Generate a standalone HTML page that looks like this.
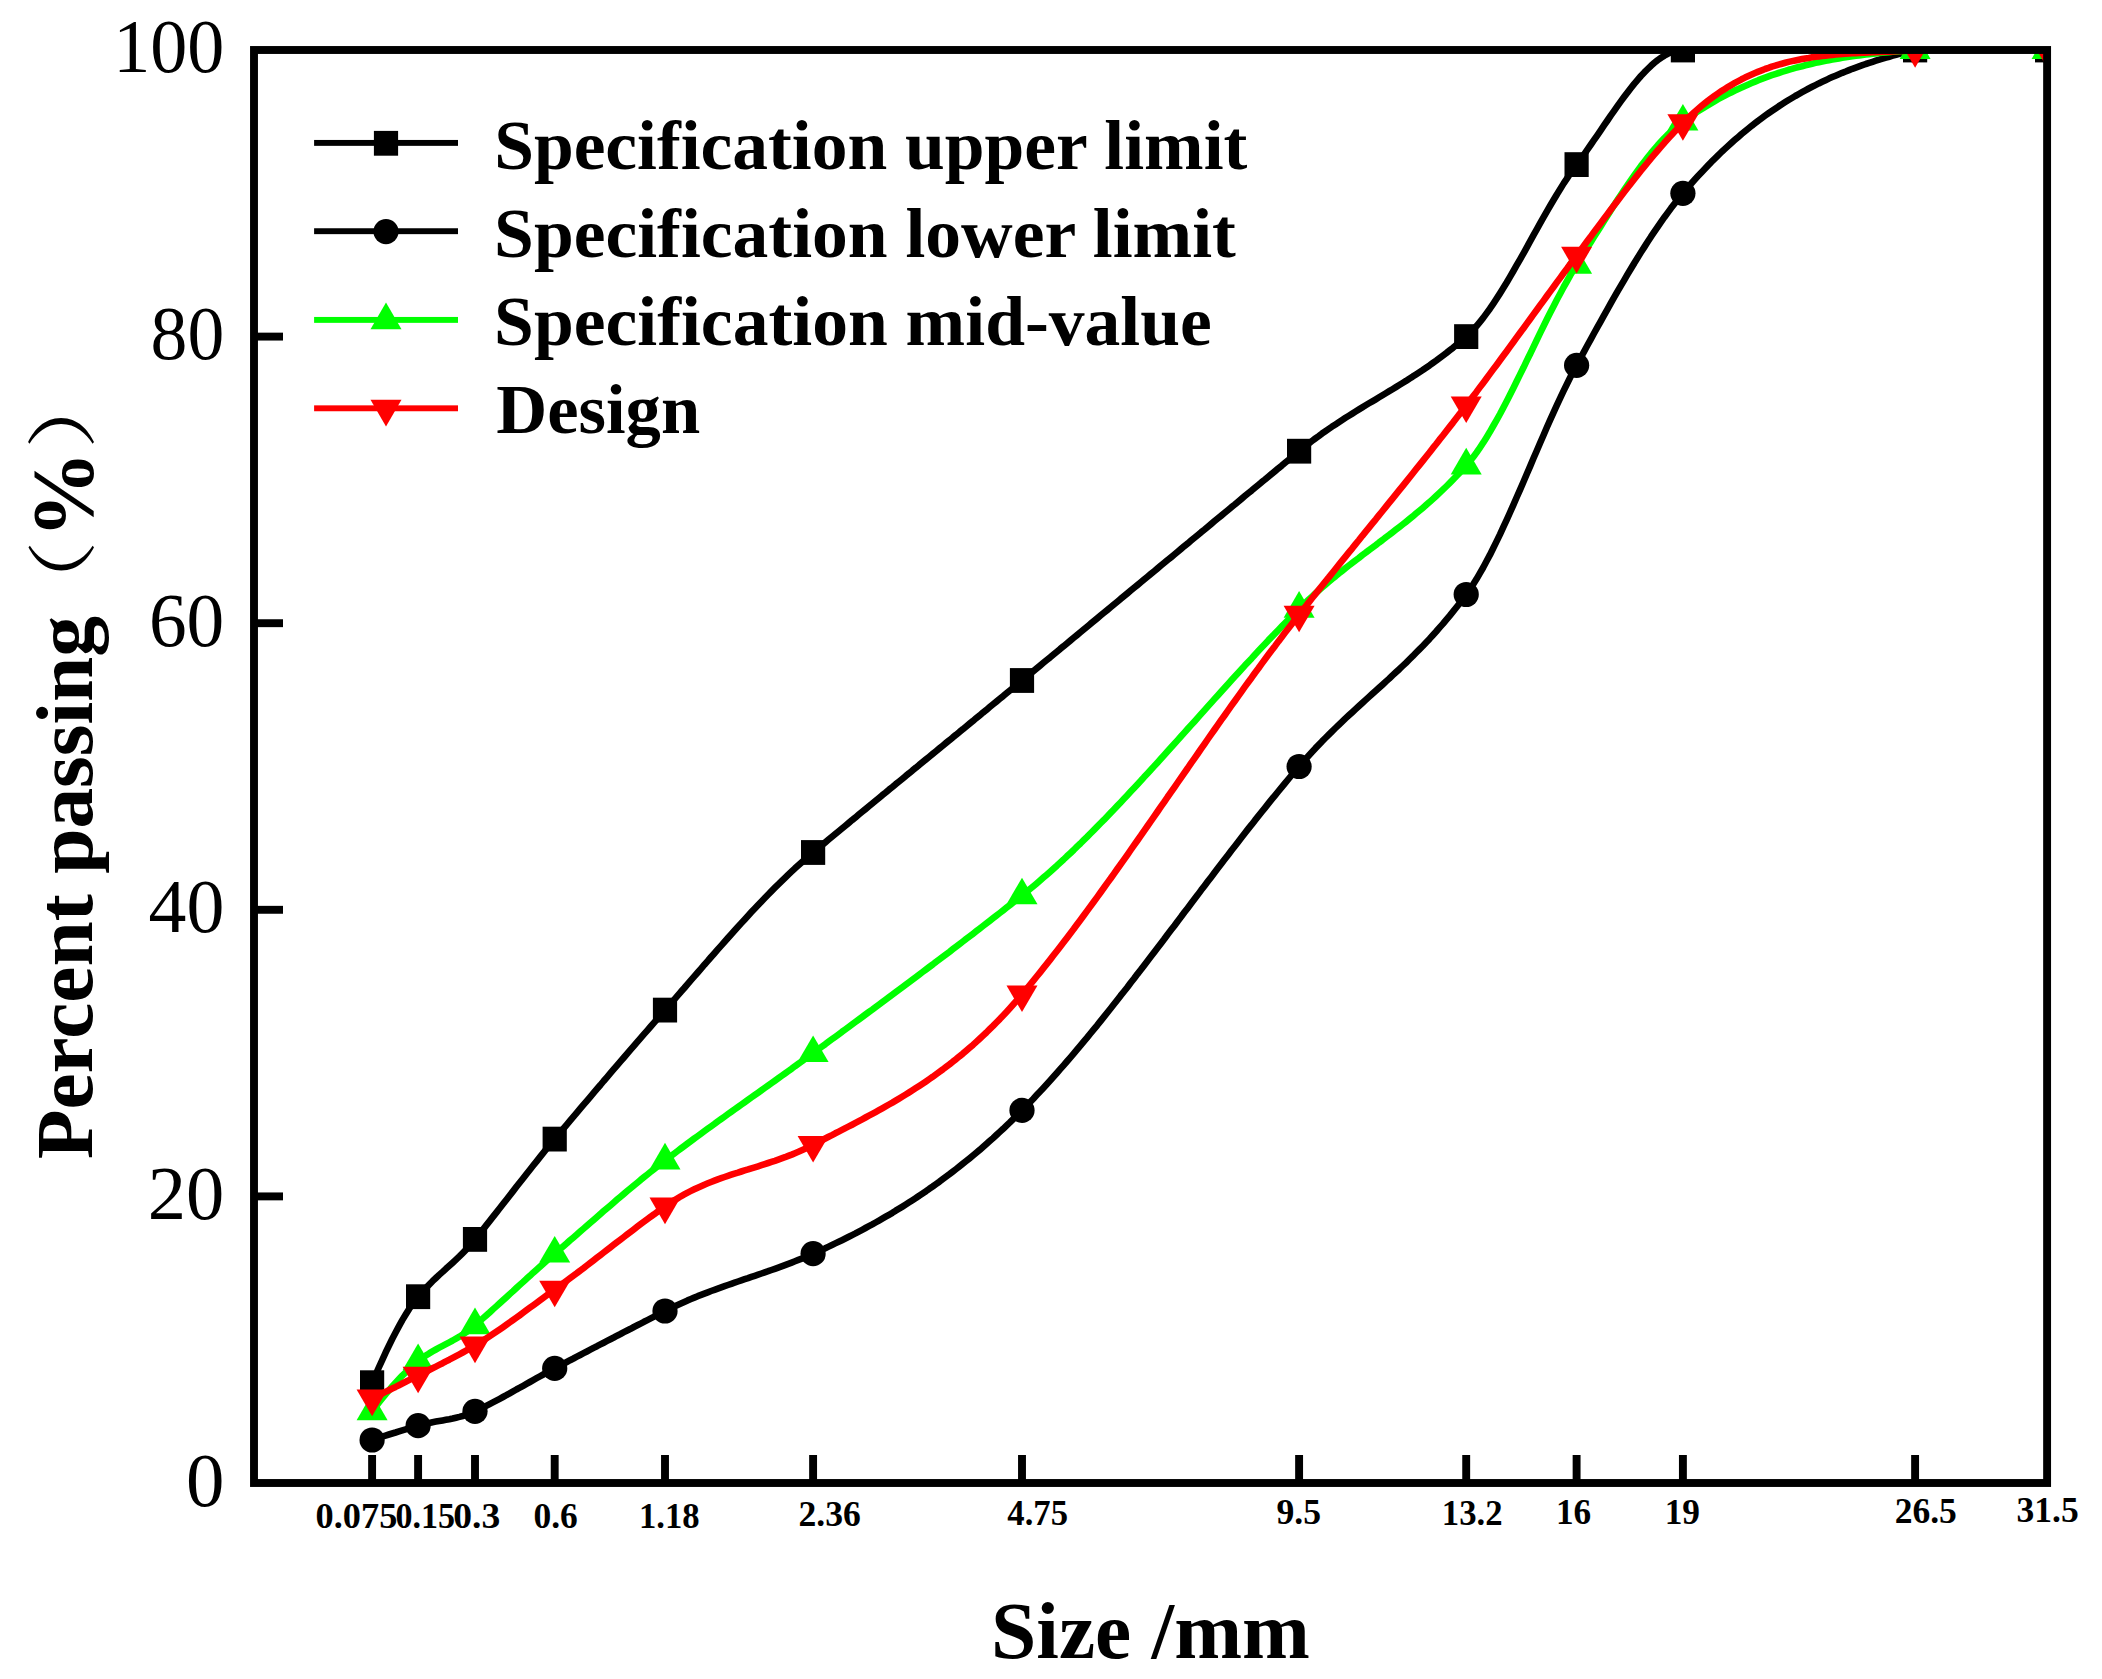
<!DOCTYPE html>
<html><head><meta charset="utf-8"><title>Gradation curve</title>
<style>
html,body{margin:0;padding:0;background:#fff}
svg{display:block}
text{font-family:"Liberation Serif","Noto Serif CJK SC",serif;fill:#000}
</style></head><body>
<svg width="2102" height="1679" viewBox="0 0 2102 1679">
<rect width="2102" height="1679" fill="#fff"/>
<defs><clipPath id="cp"><rect x="254.0" y="50.0" width="1793.1" height="1433.0"/></clipPath></defs>
<g clip-path="url(#cp)">
<path d="M372.1,1382.7 L375.5,1375.0 L378.8,1367.5 L382.2,1360.1 L385.5,1352.8 L388.9,1345.8 L392.2,1339.0 L395.6,1332.4 L399.0,1326.1 L402.3,1320.1 L405.7,1314.5 L409.0,1309.2 L412.4,1304.2 L415.7,1299.7 L418.1,1296.7 L419.1,1295.5 L422.5,1291.7 L425.8,1288.0 L429.2,1284.6 L432.5,1281.2 L435.9,1278.0 L439.2,1274.9 L442.6,1271.9 L445.9,1268.8 L449.3,1265.8 L452.7,1262.7 L456.0,1259.6 L459.4,1256.4 L462.7,1253.1 L466.1,1249.6 L469.4,1245.9 L472.8,1242.1 L475.0,1239.4 L476.2,1238.0 L479.5,1233.8 L482.9,1229.6 L486.2,1225.4 L489.6,1221.1 L492.9,1216.9 L496.3,1212.6 L499.7,1208.3 L503.0,1204.0 L506.4,1199.7 L509.7,1195.4 L513.1,1191.1 L516.4,1186.8 L519.8,1182.5 L523.2,1178.2 L526.5,1174.0 L529.9,1169.7 L533.2,1165.5 L536.6,1161.3 L539.9,1157.1 L543.3,1152.9 L546.6,1148.8 L550.0,1144.7 L553.4,1140.7 L554.7,1139.1 L556.7,1136.7 L560.1,1132.7 L563.4,1128.7 L566.8,1124.7 L570.1,1120.7 L573.5,1116.7 L576.9,1112.7 L580.2,1108.7 L583.6,1104.7 L586.9,1100.8 L590.3,1096.8 L593.6,1092.9 L597.0,1088.9 L600.4,1085.0 L603.7,1081.0 L607.1,1077.1 L610.4,1073.2 L613.8,1069.2 L617.1,1065.3 L620.5,1061.4 L623.9,1057.5 L627.2,1053.6 L630.6,1049.7 L633.9,1045.8 L637.3,1041.9 L640.6,1038.1 L644.0,1034.2 L647.4,1030.3 L650.7,1026.5 L654.1,1022.6 L657.4,1018.8 L660.8,1014.9 L664.1,1011.1 L665.0,1010.1 L667.5,1007.3 L670.8,1003.4 L674.2,999.6 L677.6,995.7 L680.9,991.8 L684.3,988.0 L687.6,984.1 L691.0,980.2 L694.3,976.4 L697.7,972.5 L701.1,968.6 L704.4,964.7 L707.8,960.9 L711.1,957.0 L714.5,953.2 L717.8,949.4 L721.2,945.6 L724.6,941.8 L727.9,938.0 L731.3,934.2 L734.6,930.5 L738.0,926.8 L741.3,923.1 L744.7,919.4 L748.1,915.7 L751.4,912.1 L754.8,908.5 L758.1,905.0 L761.5,901.4 L764.8,898.0 L768.2,894.5 L771.5,891.1 L774.9,887.7 L778.3,884.4 L781.6,881.1 L785.0,877.8 L788.3,874.6 L791.7,871.4 L795.0,868.3 L798.4,865.3 L801.8,862.2 L805.1,859.3 L808.5,856.4 L811.8,853.5 L813.1,852.5 L815.2,850.7 L818.5,848.0 L821.9,845.2 L825.3,842.4 L828.6,839.6 L832.0,836.8 L835.3,834.0 L838.7,831.2 L842.0,828.5 L845.4,825.7 L848.8,822.9 L852.1,820.1 L855.5,817.4 L858.8,814.6 L862.2,811.8 L865.5,809.1 L868.9,806.3 L872.3,803.5 L875.6,800.8 L879.0,798.0 L882.3,795.2 L885.7,792.5 L889.0,789.7 L892.4,787.0 L895.7,784.2 L899.1,781.5 L902.5,778.7 L905.8,775.9 L909.2,773.2 L912.5,770.4 L915.9,767.7 L919.2,764.9 L922.6,762.2 L926.0,759.4 L929.3,756.7 L932.7,753.9 L936.0,751.2 L939.4,748.4 L942.7,745.7 L946.1,742.9 L949.5,740.2 L952.8,737.4 L956.2,734.7 L959.5,731.9 L962.9,729.2 L966.2,726.4 L969.6,723.6 L973.0,720.9 L976.3,718.1 L979.7,715.4 L983.0,712.6 L986.4,709.9 L989.7,707.1 L993.1,704.3 L996.4,701.6 L999.8,698.8 L1003.2,696.1 L1006.5,693.3 L1009.9,690.5 L1013.2,687.8 L1016.6,685.0 L1019.9,682.2 L1022.0,680.5 L1023.3,679.4 L1026.7,676.7 L1030.0,673.9 L1033.4,671.1 L1036.7,668.4 L1040.1,665.6 L1043.4,662.8 L1046.8,660.0 L1050.2,657.3 L1053.5,654.5 L1056.9,651.7 L1060.2,648.9 L1063.6,646.2 L1066.9,643.4 L1070.3,640.6 L1073.7,637.8 L1077.0,635.1 L1080.4,632.3 L1083.7,629.5 L1087.1,626.7 L1090.4,623.9 L1093.8,621.2 L1097.2,618.4 L1100.5,615.6 L1103.9,612.8 L1107.2,610.1 L1110.6,607.3 L1113.9,604.5 L1117.3,601.7 L1120.6,598.9 L1124.0,596.2 L1127.4,593.4 L1130.7,590.6 L1134.1,587.8 L1137.4,585.1 L1140.8,582.3 L1144.1,579.5 L1147.5,576.7 L1150.9,573.9 L1154.2,571.2 L1157.6,568.4 L1160.9,565.6 L1164.3,562.8 L1167.6,560.0 L1171.0,557.3 L1174.4,554.5 L1177.7,551.7 L1181.1,548.9 L1184.4,546.1 L1187.8,543.4 L1191.1,540.6 L1194.5,537.8 L1197.9,535.0 L1201.2,532.2 L1204.6,529.5 L1207.9,526.7 L1211.3,523.9 L1214.6,521.1 L1218.0,518.3 L1221.3,515.6 L1224.7,512.8 L1228.1,510.0 L1231.4,507.2 L1234.8,504.5 L1238.1,501.7 L1241.5,498.9 L1244.8,496.1 L1248.2,493.3 L1251.6,490.6 L1254.9,487.8 L1258.3,485.0 L1261.6,482.2 L1265.0,479.5 L1268.3,476.7 L1271.7,473.9 L1275.1,471.1 L1278.4,468.3 L1281.8,465.6 L1285.1,462.8 L1288.5,460.0 L1291.8,457.2 L1295.2,454.5 L1298.6,451.7 L1299.1,451.2 L1301.9,448.9 L1305.3,446.2 L1308.6,443.6 L1312.0,441.0 L1315.3,438.5 L1318.7,436.1 L1322.0,433.6 L1325.4,431.3 L1328.8,428.9 L1332.1,426.6 L1335.5,424.4 L1338.8,422.2 L1342.2,420.0 L1345.5,417.8 L1348.9,415.7 L1352.3,413.6 L1355.6,411.5 L1359.0,409.4 L1362.3,407.4 L1365.7,405.3 L1369.0,403.3 L1372.4,401.3 L1375.8,399.3 L1379.1,397.3 L1382.5,395.2 L1385.8,393.2 L1389.2,391.2 L1392.5,389.2 L1395.9,387.1 L1399.3,385.0 L1402.6,383.0 L1406.0,380.9 L1409.3,378.7 L1412.7,376.6 L1416.0,374.4 L1419.4,372.2 L1422.8,370.0 L1426.1,367.7 L1429.5,365.4 L1432.8,363.0 L1436.2,360.6 L1439.5,358.1 L1442.9,355.6 L1446.2,353.1 L1449.6,350.4 L1453.0,347.8 L1456.3,345.0 L1459.7,342.2 L1463.0,339.4 L1466.2,336.6 L1466.4,336.4 L1469.7,333.3 L1473.1,329.8 L1476.5,326.1 L1479.8,322.1 L1483.2,317.9 L1486.5,313.4 L1489.9,308.7 L1493.2,303.8 L1496.6,298.7 L1500.0,293.4 L1503.3,288.0 L1506.7,282.5 L1510.0,276.8 L1513.4,271.0 L1516.7,265.2 L1520.1,259.3 L1523.5,253.3 L1526.8,247.3 L1530.2,241.2 L1533.5,235.2 L1536.9,229.2 L1540.2,223.2 L1543.6,217.2 L1546.9,211.3 L1550.3,205.5 L1553.7,199.8 L1557.0,194.2 L1560.4,188.8 L1563.7,183.4 L1567.1,178.3 L1570.4,173.3 L1573.8,168.5 L1576.6,164.6 L1577.2,163.9 L1580.5,159.3 L1583.9,154.6 L1587.2,149.9 L1590.6,145.0 L1593.9,140.2 L1597.3,135.3 L1600.7,130.3 L1604.0,125.4 L1607.4,120.5 L1610.7,115.6 L1614.1,110.8 L1617.4,106.1 L1620.8,101.4 L1624.2,96.8 L1627.5,92.4 L1630.9,88.0 L1634.2,83.9 L1637.6,79.9 L1640.9,76.0 L1644.3,72.4 L1647.7,69.0 L1651.0,65.8 L1654.4,62.8 L1657.7,60.1 L1661.1,57.7 L1664.4,55.6 L1667.8,53.8 L1671.1,52.3 L1674.5,51.2 L1677.9,50.4 L1681.2,50.0 L1682.9,50.0 L1684.6,50.0 L1687.9,50.0 L1691.3,50.0 L1694.6,50.0 L1698.0,50.0 L1701.4,50.0 L1704.7,50.0 L1708.1,50.0 L1711.4,50.0 L1714.8,50.0 L1718.1,50.0 L1721.5,50.0 L1724.9,50.0 L1728.2,50.0 L1731.6,50.0 L1734.9,50.0 L1738.3,50.0 L1741.6,50.0 L1745.0,50.0 L1748.4,50.0 L1751.7,50.0 L1755.1,50.0 L1758.4,50.0 L1761.8,50.0 L1765.1,50.0 L1768.5,50.0 L1771.8,50.0 L1775.2,50.0 L1778.6,50.0 L1781.9,50.0 L1785.3,50.0 L1788.6,50.0 L1792.0,50.0 L1795.3,50.0 L1798.7,50.0 L1802.1,50.0 L1805.4,50.0 L1808.8,50.0 L1812.1,50.0 L1815.5,50.0 L1818.8,50.0 L1822.2,50.0 L1825.6,50.0 L1828.9,50.0 L1832.3,50.0 L1835.6,50.0 L1839.0,50.0 L1842.3,50.0 L1845.7,50.0 L1849.1,50.0 L1852.4,50.0 L1855.8,50.0 L1859.1,50.0 L1862.5,50.0 L1865.8,50.0 L1869.2,50.0 L1872.6,50.0 L1875.9,50.0 L1879.3,50.0 L1882.6,50.0 L1886.0,50.0 L1889.3,50.0 L1892.7,50.0 L1896.0,50.0 L1899.4,50.0 L1902.8,50.0 L1906.1,50.0 L1909.5,50.0 L1912.8,50.0 L1915.1,50.0 L1916.2,50.0 L1919.5,50.0 L1922.9,50.0 L1926.3,50.0 L1929.6,50.0 L1933.0,50.0 L1936.3,50.0 L1939.7,50.0 L1943.0,50.0 L1946.4,50.0 L1949.8,50.0 L1953.1,50.0 L1956.5,50.0 L1959.8,50.0 L1963.2,50.0 L1966.5,50.0 L1969.9,50.0 L1973.3,50.0 L1976.6,50.0 L1980.0,50.0 L1983.3,50.0 L1986.7,50.0 L1990.0,50.0 L1993.4,50.0 L1996.7,50.0 L2000.1,50.0 L2003.5,50.0 L2006.8,50.0 L2010.2,50.0 L2013.5,50.0 L2016.9,50.0 L2020.2,50.0 L2023.6,50.0 L2027.0,50.0 L2030.3,50.0 L2033.7,50.0 L2037.0,50.0 L2040.4,50.0 L2043.7,50.0 L2047.1,50.0" fill="none" stroke="#000000" stroke-width="6.6" stroke-linejoin="round"/>
<rect x="360.0" y="1370.3" width="24.2" height="24.8" fill="#000000"/>
<rect x="406.0" y="1284.3" width="24.2" height="24.8" fill="#000000"/>
<rect x="462.9" y="1227.0" width="24.2" height="24.8" fill="#000000"/>
<rect x="542.6" y="1126.7" width="24.2" height="24.8" fill="#000000"/>
<rect x="652.9" y="997.7" width="24.2" height="24.8" fill="#000000"/>
<rect x="801.0" y="840.1" width="24.2" height="24.8" fill="#000000"/>
<rect x="1009.9" y="668.1" width="24.2" height="24.8" fill="#000000"/>
<rect x="1287.0" y="438.8" width="24.2" height="24.8" fill="#000000"/>
<rect x="1454.1" y="324.2" width="24.2" height="24.8" fill="#000000"/>
<rect x="1564.5" y="152.2" width="24.2" height="24.8" fill="#000000"/>
<rect x="1670.8" y="37.6" width="24.2" height="24.8" fill="#000000"/>
<rect x="1903.0" y="37.6" width="24.2" height="24.8" fill="#000000"/>
<rect x="2035.0" y="37.6" width="24.2" height="24.8" fill="#000000"/>
<path d="M372.1,1440.0 L375.5,1438.9 L378.8,1437.8 L382.2,1436.7 L385.5,1435.6 L388.9,1434.5 L392.2,1433.5 L395.6,1432.5 L399.0,1431.4 L402.3,1430.4 L405.7,1429.4 L409.0,1428.4 L412.4,1427.4 L415.7,1426.4 L418.1,1425.7 L419.1,1425.4 L422.5,1424.5 L425.8,1423.6 L429.2,1422.9 L432.5,1422.2 L435.9,1421.6 L439.2,1421.0 L442.6,1420.4 L445.9,1419.8 L449.3,1419.2 L452.7,1418.5 L456.0,1417.7 L459.4,1416.9 L462.7,1416.0 L466.1,1414.9 L469.4,1413.7 L472.8,1412.3 L475.0,1411.3 L476.2,1410.8 L479.5,1409.2 L482.9,1407.6 L486.2,1405.9 L489.6,1404.1 L492.9,1402.4 L496.3,1400.6 L499.7,1398.8 L503.0,1397.0 L506.4,1395.2 L509.7,1393.3 L513.1,1391.4 L516.4,1389.5 L519.8,1387.7 L523.2,1385.8 L526.5,1383.9 L529.9,1382.0 L533.2,1380.1 L536.6,1378.2 L539.9,1376.4 L543.3,1374.5 L546.6,1372.7 L550.0,1370.9 L553.4,1369.1 L554.7,1368.4 L556.7,1367.3 L560.1,1365.5 L563.4,1363.8 L566.8,1362.0 L570.1,1360.2 L573.5,1358.5 L576.9,1356.7 L580.2,1355.0 L583.6,1353.2 L586.9,1351.5 L590.3,1349.7 L593.6,1347.9 L597.0,1346.2 L600.4,1344.4 L603.7,1342.7 L607.1,1340.9 L610.4,1339.2 L613.8,1337.5 L617.1,1335.7 L620.5,1334.0 L623.9,1332.2 L627.2,1330.5 L630.6,1328.8 L633.9,1327.0 L637.3,1325.3 L640.6,1323.6 L644.0,1321.8 L647.4,1320.1 L650.7,1318.4 L654.1,1316.6 L657.4,1314.9 L660.8,1313.2 L664.1,1311.5 L665.0,1311.0 L667.5,1309.8 L670.8,1308.1 L674.2,1306.5 L677.6,1304.9 L680.9,1303.4 L684.3,1301.9 L687.6,1300.4 L691.0,1299.0 L694.3,1297.6 L697.7,1296.2 L701.1,1294.9 L704.4,1293.6 L707.8,1292.3 L711.1,1291.0 L714.5,1289.8 L717.8,1288.6 L721.2,1287.4 L724.6,1286.2 L727.9,1285.0 L731.3,1283.8 L734.6,1282.7 L738.0,1281.5 L741.3,1280.4 L744.7,1279.2 L748.1,1278.1 L751.4,1276.9 L754.8,1275.8 L758.1,1274.7 L761.5,1273.5 L764.8,1272.3 L768.2,1271.2 L771.5,1270.0 L774.9,1268.8 L778.3,1267.6 L781.6,1266.4 L785.0,1265.1 L788.3,1263.9 L791.7,1262.6 L795.0,1261.3 L798.4,1259.9 L801.8,1258.6 L805.1,1257.2 L808.5,1255.7 L811.8,1254.3 L813.1,1253.7 L815.2,1252.8 L818.5,1251.3 L821.9,1249.7 L825.3,1248.2 L828.6,1246.6 L832.0,1245.0 L835.3,1243.4 L838.7,1241.8 L842.0,1240.2 L845.4,1238.5 L848.8,1236.8 L852.1,1235.1 L855.5,1233.4 L858.8,1231.6 L862.2,1229.8 L865.5,1228.0 L868.9,1226.2 L872.3,1224.4 L875.6,1222.5 L879.0,1220.6 L882.3,1218.7 L885.7,1216.7 L889.0,1214.8 L892.4,1212.8 L895.7,1210.7 L899.1,1208.7 L902.5,1206.6 L905.8,1204.5 L909.2,1202.3 L912.5,1200.2 L915.9,1198.0 L919.2,1195.7 L922.6,1193.5 L926.0,1191.2 L929.3,1188.8 L932.7,1186.5 L936.0,1184.1 L939.4,1181.7 L942.7,1179.2 L946.1,1176.7 L949.5,1174.2 L952.8,1171.6 L956.2,1169.0 L959.5,1166.4 L962.9,1163.7 L966.2,1161.0 L969.6,1158.3 L973.0,1155.5 L976.3,1152.7 L979.7,1149.9 L983.0,1147.0 L986.4,1144.0 L989.7,1141.1 L993.1,1138.1 L996.4,1135.0 L999.8,1131.9 L1003.2,1128.8 L1006.5,1125.6 L1009.9,1122.4 L1013.2,1119.1 L1016.6,1115.8 L1019.9,1112.5 L1022.0,1110.4 L1023.3,1109.1 L1026.7,1105.7 L1030.0,1102.2 L1033.4,1098.7 L1036.7,1095.1 L1040.1,1091.5 L1043.4,1087.9 L1046.8,1084.2 L1050.2,1080.5 L1053.5,1076.8 L1056.9,1073.0 L1060.2,1069.2 L1063.6,1065.3 L1066.9,1061.5 L1070.3,1057.6 L1073.7,1053.6 L1077.0,1049.6 L1080.4,1045.6 L1083.7,1041.6 L1087.1,1037.6 L1090.4,1033.5 L1093.8,1029.4 L1097.2,1025.3 L1100.5,1021.1 L1103.9,1016.9 L1107.2,1012.7 L1110.6,1008.5 L1113.9,1004.3 L1117.3,1000.0 L1120.6,995.7 L1124.0,991.5 L1127.4,987.2 L1130.7,982.8 L1134.1,978.5 L1137.4,974.1 L1140.8,969.8 L1144.1,965.4 L1147.5,961.0 L1150.9,956.6 L1154.2,952.2 L1157.6,947.8 L1160.9,943.4 L1164.3,939.0 L1167.6,934.5 L1171.0,930.1 L1174.4,925.7 L1177.7,921.2 L1181.1,916.8 L1184.4,912.3 L1187.8,907.9 L1191.1,903.5 L1194.5,899.0 L1197.9,894.6 L1201.2,890.1 L1204.6,885.7 L1207.9,881.3 L1211.3,876.9 L1214.6,872.5 L1218.0,868.1 L1221.3,863.7 L1224.7,859.3 L1228.1,854.9 L1231.4,850.5 L1234.8,846.2 L1238.1,841.9 L1241.5,837.5 L1244.8,833.2 L1248.2,828.9 L1251.6,824.7 L1254.9,820.4 L1258.3,816.2 L1261.6,812.0 L1265.0,807.8 L1268.3,803.6 L1271.7,799.4 L1275.1,795.3 L1278.4,791.2 L1281.8,787.1 L1285.1,783.1 L1288.5,779.0 L1291.8,775.0 L1295.2,771.1 L1298.6,767.1 L1299.1,766.5 L1301.9,763.2 L1305.3,759.4 L1308.6,755.7 L1312.0,752.0 L1315.3,748.4 L1318.7,744.9 L1322.0,741.4 L1325.4,738.0 L1328.8,734.6 L1332.1,731.3 L1335.5,728.0 L1338.8,724.8 L1342.2,721.6 L1345.5,718.4 L1348.9,715.3 L1352.3,712.2 L1355.6,709.1 L1359.0,706.0 L1362.3,703.0 L1365.7,699.9 L1369.0,696.9 L1372.4,693.8 L1375.8,690.8 L1379.1,687.8 L1382.5,684.7 L1385.8,681.6 L1389.2,678.6 L1392.5,675.4 L1395.9,672.3 L1399.3,669.2 L1402.6,666.0 L1406.0,662.8 L1409.3,659.5 L1412.7,656.2 L1416.0,652.8 L1419.4,649.4 L1422.8,646.0 L1426.1,642.5 L1429.5,638.9 L1432.8,635.2 L1436.2,631.5 L1439.5,627.7 L1442.9,623.9 L1446.2,619.9 L1449.6,615.9 L1453.0,611.7 L1456.3,607.5 L1459.7,603.2 L1463.0,598.8 L1466.2,594.5 L1466.4,594.3 L1469.7,589.5 L1473.1,584.5 L1476.5,579.1 L1479.8,573.4 L1483.2,567.5 L1486.5,561.3 L1489.9,554.9 L1493.2,548.3 L1496.6,541.4 L1500.0,534.4 L1503.3,527.2 L1506.7,519.9 L1510.0,512.5 L1513.4,504.9 L1516.7,497.3 L1520.1,489.6 L1523.5,481.8 L1526.8,474.0 L1530.2,466.1 L1533.5,458.3 L1536.9,450.5 L1540.2,442.7 L1543.6,435.0 L1546.9,427.3 L1550.3,419.7 L1553.7,412.2 L1557.0,404.9 L1560.4,397.6 L1563.7,390.6 L1567.1,383.7 L1570.4,377.0 L1573.8,370.5 L1576.6,365.3 L1577.2,364.2 L1580.5,358.0 L1583.9,351.9 L1587.2,345.7 L1590.6,339.6 L1593.9,333.5 L1597.3,327.4 L1600.7,321.3 L1604.0,315.3 L1607.4,309.3 L1610.7,303.3 L1614.1,297.4 L1617.4,291.6 L1620.8,285.8 L1624.2,280.1 L1627.5,274.4 L1630.9,268.8 L1634.2,263.2 L1637.6,257.8 L1640.9,252.4 L1644.3,247.1 L1647.7,241.8 L1651.0,236.7 L1654.4,231.7 L1657.7,226.8 L1661.1,221.9 L1664.4,217.2 L1667.8,212.6 L1671.1,208.1 L1674.5,203.7 L1677.9,199.4 L1681.2,195.3 L1682.9,193.3 L1684.6,191.3 L1687.9,187.4 L1691.3,183.5 L1694.6,179.8 L1698.0,176.1 L1701.4,172.4 L1704.7,168.9 L1708.1,165.4 L1711.4,161.9 L1714.8,158.6 L1718.1,155.3 L1721.5,152.0 L1724.9,148.9 L1728.2,145.8 L1731.6,142.7 L1734.9,139.8 L1738.3,136.9 L1741.6,134.0 L1745.0,131.2 L1748.4,128.5 L1751.7,125.8 L1755.1,123.2 L1758.4,120.6 L1761.8,118.1 L1765.1,115.7 L1768.5,113.3 L1771.8,111.0 L1775.2,108.7 L1778.6,106.4 L1781.9,104.3 L1785.3,102.1 L1788.6,100.0 L1792.0,98.0 L1795.3,96.0 L1798.7,94.1 L1802.1,92.2 L1805.4,90.4 L1808.8,88.5 L1812.1,86.8 L1815.5,85.1 L1818.8,83.4 L1822.2,81.8 L1825.6,80.2 L1828.9,78.6 L1832.3,77.1 L1835.6,75.7 L1839.0,74.2 L1842.3,72.8 L1845.7,71.5 L1849.1,70.1 L1852.4,68.8 L1855.8,67.6 L1859.1,66.4 L1862.5,65.2 L1865.8,64.0 L1869.2,62.9 L1872.6,61.8 L1875.9,60.7 L1879.3,59.6 L1882.6,58.6 L1886.0,57.6 L1889.3,56.7 L1892.7,55.7 L1896.0,54.8 L1899.4,53.9 L1902.8,53.0 L1906.1,52.2 L1909.5,51.4 L1912.8,50.5 L1915.1,50.0 L1916.2,49.7 L1919.5,49.0 L1922.9,48.2 L1926.3,47.5 L1929.6,46.9 L1933.0,46.2 L1936.3,45.6 L1939.7,45.0 L1943.0,44.5 L1946.4,44.0 L1949.8,43.5 L1953.1,43.1 L1956.5,42.7 L1959.8,42.3 L1963.2,42.0 L1966.5,41.7 L1969.9,41.5 L1973.3,41.3 L1976.6,41.1 L1980.0,41.0 L1983.3,41.0 L1986.7,41.0 L1990.0,41.0 L1993.4,41.1 L1996.7,41.3 L2000.1,41.4 L2003.5,41.7 L2006.8,42.0 L2010.2,42.3 L2013.5,42.7 L2016.9,43.2 L2020.2,43.7 L2023.6,44.3 L2027.0,44.9 L2030.3,45.6 L2033.7,46.4 L2037.0,47.2 L2040.4,48.1 L2043.7,49.0 L2047.1,50.0" fill="none" stroke="#000000" stroke-width="6.6" stroke-linejoin="round"/>
<circle cx="372.1" cy="1440.0" r="12.6" fill="#000000"/>
<circle cx="418.1" cy="1425.7" r="12.6" fill="#000000"/>
<circle cx="475.0" cy="1411.3" r="12.6" fill="#000000"/>
<circle cx="554.7" cy="1368.4" r="12.6" fill="#000000"/>
<circle cx="665.0" cy="1311.0" r="12.6" fill="#000000"/>
<circle cx="813.1" cy="1253.7" r="12.6" fill="#000000"/>
<circle cx="1022.0" cy="1110.4" r="12.6" fill="#000000"/>
<circle cx="1299.1" cy="766.5" r="12.6" fill="#000000"/>
<circle cx="1466.2" cy="594.5" r="12.6" fill="#000000"/>
<circle cx="1576.6" cy="365.3" r="12.6" fill="#000000"/>
<circle cx="1682.9" cy="193.3" r="12.6" fill="#000000"/>
<circle cx="1915.1" cy="50.0" r="12.6" fill="#000000"/>
<circle cx="2047.1" cy="50.0" r="12.6" fill="#000000"/>
<path d="M372.1,1411.3 L375.5,1407.0 L378.8,1402.7 L382.2,1398.5 L385.5,1394.4 L388.9,1390.4 L392.2,1386.5 L395.6,1382.7 L399.0,1379.1 L402.3,1375.6 L405.7,1372.3 L409.0,1369.1 L412.4,1366.0 L415.7,1363.1 L418.1,1361.2 L419.1,1360.4 L422.5,1357.9 L425.8,1355.6 L429.2,1353.4 L432.5,1351.4 L435.9,1349.5 L439.2,1347.7 L442.6,1345.9 L445.9,1344.1 L449.3,1342.3 L452.7,1340.5 L456.0,1338.6 L459.4,1336.7 L462.7,1334.6 L466.1,1332.3 L469.4,1329.9 L472.8,1327.2 L475.0,1325.4 L476.2,1324.4 L479.5,1321.4 L482.9,1318.4 L486.2,1315.5 L489.6,1312.5 L492.9,1309.4 L496.3,1306.4 L499.7,1303.3 L503.0,1300.3 L506.4,1297.2 L509.7,1294.1 L513.1,1291.1 L516.4,1288.0 L519.8,1284.9 L523.2,1281.9 L526.5,1278.8 L529.9,1275.8 L533.2,1272.7 L536.6,1269.7 L539.9,1266.7 L543.3,1263.7 L546.6,1260.7 L550.0,1257.8 L553.4,1254.9 L554.7,1253.7 L556.7,1252.0 L560.1,1249.1 L563.4,1246.2 L566.8,1243.3 L570.1,1240.3 L573.5,1237.4 L576.9,1234.5 L580.2,1231.6 L583.6,1228.6 L586.9,1225.7 L590.3,1222.8 L593.6,1219.9 L597.0,1217.0 L600.4,1214.0 L603.7,1211.1 L607.1,1208.2 L610.4,1205.4 L613.8,1202.5 L617.1,1199.6 L620.5,1196.7 L623.9,1193.9 L627.2,1191.1 L630.6,1188.3 L633.9,1185.5 L637.3,1182.7 L640.6,1179.9 L644.0,1177.2 L647.4,1174.5 L650.7,1171.8 L654.1,1169.1 L657.4,1166.5 L660.8,1163.8 L664.1,1161.2 L665.0,1160.6 L667.5,1158.7 L670.8,1156.1 L674.2,1153.6 L677.6,1151.0 L680.9,1148.5 L684.3,1146.0 L687.6,1143.5 L691.0,1141.0 L694.3,1138.5 L697.7,1136.1 L701.1,1133.6 L704.4,1131.2 L707.8,1128.7 L711.1,1126.3 L714.5,1123.9 L717.8,1121.4 L721.2,1119.0 L724.6,1116.6 L727.9,1114.2 L731.3,1111.8 L734.6,1109.4 L738.0,1107.0 L741.3,1104.6 L744.7,1102.2 L748.1,1099.8 L751.4,1097.4 L754.8,1095.0 L758.1,1092.7 L761.5,1090.3 L764.8,1087.9 L768.2,1085.5 L771.5,1083.1 L774.9,1080.7 L778.3,1078.3 L781.6,1075.9 L785.0,1073.5 L788.3,1071.1 L791.7,1068.7 L795.0,1066.2 L798.4,1063.8 L801.8,1061.4 L805.1,1058.9 L808.5,1056.5 L811.8,1054.0 L813.1,1053.1 L815.2,1051.6 L818.5,1049.1 L821.9,1046.6 L825.3,1044.2 L828.6,1041.7 L832.0,1039.2 L835.3,1036.8 L838.7,1034.3 L842.0,1031.8 L845.4,1029.4 L848.8,1026.9 L852.1,1024.4 L855.5,1021.9 L858.8,1019.5 L862.2,1017.0 L865.5,1014.5 L868.9,1012.0 L872.3,1009.6 L875.6,1007.1 L879.0,1004.6 L882.3,1002.1 L885.7,999.6 L889.0,997.1 L892.4,994.6 L895.7,992.1 L899.1,989.6 L902.5,987.1 L905.8,984.6 L909.2,982.1 L912.5,979.6 L915.9,977.1 L919.2,974.6 L922.6,972.0 L926.0,969.5 L929.3,967.0 L932.7,964.5 L936.0,961.9 L939.4,959.4 L942.7,956.9 L946.1,954.3 L949.5,951.8 L952.8,949.2 L956.2,946.6 L959.5,944.1 L962.9,941.5 L966.2,938.9 L969.6,936.4 L973.0,933.8 L976.3,931.2 L979.7,928.6 L983.0,926.0 L986.4,923.4 L989.7,920.8 L993.1,918.2 L996.4,915.6 L999.8,913.0 L1003.2,910.3 L1006.5,907.7 L1009.9,905.1 L1013.2,902.4 L1016.6,899.8 L1019.9,897.1 L1022.0,895.5 L1023.3,894.4 L1026.7,891.7 L1030.0,889.0 L1033.4,886.2 L1036.7,883.4 L1040.1,880.5 L1043.4,877.6 L1046.8,874.7 L1050.2,871.7 L1053.5,868.7 L1056.9,865.7 L1060.2,862.6 L1063.6,859.5 L1066.9,856.3 L1070.3,853.2 L1073.7,850.0 L1077.0,846.7 L1080.4,843.5 L1083.7,840.2 L1087.1,836.9 L1090.4,833.5 L1093.8,830.1 L1097.2,826.7 L1100.5,823.3 L1103.9,819.9 L1107.2,816.4 L1110.6,812.9 L1113.9,809.4 L1117.3,805.9 L1120.6,802.4 L1124.0,798.8 L1127.4,795.2 L1130.7,791.6 L1134.1,788.0 L1137.4,784.4 L1140.8,780.8 L1144.1,777.1 L1147.5,773.5 L1150.9,769.8 L1154.2,766.1 L1157.6,762.4 L1160.9,758.7 L1164.3,755.0 L1167.6,751.3 L1171.0,747.5 L1174.4,743.8 L1177.7,740.1 L1181.1,736.3 L1184.4,732.6 L1187.8,728.8 L1191.1,725.1 L1194.5,721.4 L1197.9,717.6 L1201.2,713.9 L1204.6,710.1 L1207.9,706.4 L1211.3,702.6 L1214.6,698.9 L1218.0,695.2 L1221.3,691.5 L1224.7,687.7 L1228.1,684.0 L1231.4,680.3 L1234.8,676.6 L1238.1,673.0 L1241.5,669.3 L1244.8,665.6 L1248.2,662.0 L1251.6,658.4 L1254.9,654.7 L1258.3,651.1 L1261.6,647.6 L1265.0,644.0 L1268.3,640.4 L1271.7,636.9 L1275.1,633.4 L1278.4,629.9 L1281.8,626.4 L1285.1,623.0 L1288.5,619.6 L1291.8,616.1 L1295.2,612.8 L1298.6,609.4 L1299.1,608.9 L1301.9,606.1 L1305.3,602.9 L1308.6,599.7 L1312.0,596.6 L1315.3,593.5 L1318.7,590.5 L1322.0,587.6 L1325.4,584.7 L1328.8,581.8 L1332.1,579.0 L1335.5,576.3 L1338.8,573.5 L1342.2,570.8 L1345.5,568.2 L1348.9,565.5 L1352.3,562.9 L1355.6,560.3 L1359.0,557.8 L1362.3,555.2 L1365.7,552.7 L1369.0,550.1 L1372.4,547.6 L1375.8,545.1 L1379.1,542.5 L1382.5,540.0 L1385.8,537.4 L1389.2,534.9 L1392.5,532.3 L1395.9,529.7 L1399.3,527.1 L1402.6,524.5 L1406.0,521.8 L1409.3,519.1 L1412.7,516.4 L1416.0,513.6 L1419.4,510.8 L1422.8,507.9 L1426.1,505.0 L1429.5,502.1 L1432.8,499.1 L1436.2,496.0 L1439.5,492.9 L1442.9,489.7 L1446.2,486.5 L1449.6,483.1 L1453.0,479.7 L1456.3,476.3 L1459.7,472.7 L1463.0,469.1 L1466.2,465.6 L1466.4,465.4 L1469.7,461.4 L1473.1,457.2 L1476.5,452.6 L1479.8,447.8 L1483.2,442.7 L1486.5,437.4 L1489.9,431.8 L1493.2,426.0 L1496.6,420.1 L1500.0,414.0 L1503.3,407.7 L1506.7,401.2 L1510.0,394.7 L1513.4,388.0 L1516.7,381.3 L1520.1,374.4 L1523.5,367.6 L1526.8,360.6 L1530.2,353.7 L1533.5,346.8 L1536.9,339.8 L1540.2,332.9 L1543.6,326.1 L1546.9,319.3 L1550.3,312.6 L1553.7,306.0 L1557.0,299.5 L1560.4,293.2 L1563.7,287.0 L1567.1,281.0 L1570.4,275.1 L1573.8,269.5 L1576.6,265.0 L1577.2,264.1 L1580.5,258.7 L1583.9,253.3 L1587.2,247.9 L1590.6,242.5 L1593.9,237.1 L1597.3,231.7 L1600.7,226.4 L1604.0,221.0 L1607.4,215.7 L1610.7,210.4 L1614.1,205.2 L1617.4,200.1 L1620.8,195.0 L1624.2,189.9 L1627.5,185.0 L1630.9,180.1 L1634.2,175.4 L1637.6,170.7 L1640.9,166.1 L1644.3,161.7 L1647.7,157.4 L1651.0,153.2 L1654.4,149.2 L1657.7,145.3 L1661.1,141.6 L1664.4,138.0 L1667.8,134.6 L1671.1,131.4 L1674.5,128.4 L1677.9,125.5 L1681.2,122.9 L1682.9,121.7 L1684.6,120.4 L1687.9,118.1 L1691.3,115.8 L1694.6,113.5 L1698.0,111.3 L1701.4,109.2 L1704.7,107.1 L1708.1,105.1 L1711.4,103.1 L1714.8,101.1 L1718.1,99.2 L1721.5,97.4 L1724.9,95.6 L1728.2,93.9 L1731.6,92.2 L1734.9,90.5 L1738.3,88.9 L1741.6,87.4 L1745.0,85.9 L1748.4,84.4 L1751.7,83.0 L1755.1,81.6 L1758.4,80.2 L1761.8,78.9 L1765.1,77.7 L1768.5,76.4 L1771.8,75.2 L1775.2,74.1 L1778.6,73.0 L1781.9,71.9 L1785.3,70.9 L1788.6,69.8 L1792.0,68.9 L1795.3,67.9 L1798.7,67.0 L1802.1,66.2 L1805.4,65.3 L1808.8,64.5 L1812.1,63.7 L1815.5,62.9 L1818.8,62.2 L1822.2,61.5 L1825.6,60.8 L1828.9,60.2 L1832.3,59.6 L1835.6,59.0 L1839.0,58.4 L1842.3,57.8 L1845.7,57.3 L1849.1,56.8 L1852.4,56.3 L1855.8,55.8 L1859.1,55.4 L1862.5,54.9 L1865.8,54.5 L1869.2,54.1 L1872.6,53.7 L1875.9,53.4 L1879.3,53.0 L1882.6,52.7 L1886.0,52.4 L1889.3,52.1 L1892.7,51.8 L1896.0,51.5 L1899.4,51.2 L1902.8,50.9 L1906.1,50.7 L1909.5,50.4 L1912.8,50.2 L1915.1,50.0 L1916.2,49.9 L1919.5,49.7 L1922.9,49.4 L1926.3,49.2 L1929.6,49.0 L1933.0,48.7 L1936.3,48.5 L1939.7,48.3 L1943.0,48.1 L1946.4,47.8 L1949.8,47.6 L1953.1,47.4 L1956.5,47.2 L1959.8,47.1 L1963.2,46.9 L1966.5,46.8 L1969.9,46.6 L1973.3,46.5 L1976.6,46.4 L1980.0,46.3 L1983.3,46.2 L1986.7,46.2 L1990.0,46.2 L1993.4,46.2 L1996.7,46.2 L2000.1,46.2 L2003.5,46.3 L2006.8,46.4 L2010.2,46.5 L2013.5,46.7 L2016.9,46.9 L2020.2,47.1 L2023.6,47.3 L2027.0,47.6 L2030.3,47.9 L2033.7,48.2 L2037.0,48.6 L2040.4,49.0 L2043.7,49.5 L2047.1,50.0" fill="none" stroke="#00ff00" stroke-width="6.6" stroke-linejoin="round"/>
<polygon points="356.6,1420.2 387.6,1420.2 372.1,1393.6" fill="#00ff00"/>
<polygon points="402.6,1370.1 433.6,1370.1 418.1,1343.5" fill="#00ff00"/>
<polygon points="459.5,1334.2 490.5,1334.2 475.0,1307.6" fill="#00ff00"/>
<polygon points="539.2,1262.6 570.2,1262.6 554.7,1236.0" fill="#00ff00"/>
<polygon points="649.5,1169.4 680.5,1169.4 665.0,1142.8" fill="#00ff00"/>
<polygon points="797.6,1062.0 828.6,1062.0 813.1,1035.4" fill="#00ff00"/>
<polygon points="1006.5,904.3 1037.5,904.3 1022.0,877.7" fill="#00ff00"/>
<polygon points="1283.6,617.7 1314.6,617.7 1299.1,591.1" fill="#00ff00"/>
<polygon points="1450.7,474.4 1481.7,474.4 1466.2,447.8" fill="#00ff00"/>
<polygon points="1561.1,273.8 1592.1,273.8 1576.6,247.2" fill="#00ff00"/>
<polygon points="1667.4,130.5 1698.4,130.5 1682.9,103.9" fill="#00ff00"/>
<polygon points="1899.6,58.9 1930.6,58.9 1915.1,32.3" fill="#00ff00"/>
<polygon points="2031.6,58.9 2062.6,58.9 2047.1,32.3" fill="#00ff00"/>
<path d="M372.1,1398.5 L375.5,1396.8 L378.8,1395.2 L382.2,1393.5 L385.5,1391.9 L388.9,1390.2 L392.2,1388.5 L395.6,1386.9 L399.0,1385.2 L402.3,1383.5 L405.7,1381.8 L409.0,1380.1 L412.4,1378.4 L415.7,1376.7 L418.1,1375.5 L419.1,1375.0 L422.5,1373.3 L425.8,1371.7 L429.2,1370.0 L432.5,1368.3 L435.9,1366.6 L439.2,1364.9 L442.6,1363.2 L445.9,1361.4 L449.3,1359.7 L452.7,1357.9 L456.0,1356.1 L459.4,1354.3 L462.7,1352.5 L466.1,1350.6 L469.4,1348.7 L472.8,1346.7 L475.0,1345.4 L476.2,1344.7 L479.5,1342.7 L482.9,1340.6 L486.2,1338.5 L489.6,1336.3 L492.9,1334.1 L496.3,1331.8 L499.7,1329.5 L503.0,1327.2 L506.4,1324.8 L509.7,1322.4 L513.1,1320.0 L516.4,1317.6 L519.8,1315.2 L523.2,1312.7 L526.5,1310.2 L529.9,1307.7 L533.2,1305.3 L536.6,1302.8 L539.9,1300.3 L543.3,1297.8 L546.6,1295.4 L550.0,1292.9 L553.4,1290.5 L554.7,1289.5 L556.7,1288.1 L560.1,1285.7 L563.4,1283.2 L566.8,1280.7 L570.1,1278.2 L573.5,1275.7 L576.9,1273.2 L580.2,1270.6 L583.6,1268.1 L586.9,1265.5 L590.3,1262.9 L593.6,1260.3 L597.0,1257.7 L600.4,1255.1 L603.7,1252.5 L607.1,1249.9 L610.4,1247.3 L613.8,1244.7 L617.1,1242.1 L620.5,1239.6 L623.9,1237.0 L627.2,1234.4 L630.6,1231.8 L633.9,1229.3 L637.3,1226.7 L640.6,1224.2 L644.0,1221.7 L647.4,1219.2 L650.7,1216.7 L654.1,1214.3 L657.4,1211.8 L660.8,1209.4 L664.1,1207.0 L665.0,1206.4 L667.5,1204.7 L670.8,1202.5 L674.2,1200.3 L677.6,1198.3 L680.9,1196.3 L684.3,1194.4 L687.6,1192.6 L691.0,1190.9 L694.3,1189.3 L697.7,1187.7 L701.1,1186.2 L704.4,1184.7 L707.8,1183.3 L711.1,1182.0 L714.5,1180.7 L717.8,1179.4 L721.2,1178.2 L724.6,1177.0 L727.9,1175.9 L731.3,1174.7 L734.6,1173.6 L738.0,1172.6 L741.3,1171.5 L744.7,1170.4 L748.1,1169.4 L751.4,1168.3 L754.8,1167.3 L758.1,1166.3 L761.5,1165.2 L764.8,1164.1 L768.2,1163.0 L771.5,1161.9 L774.9,1160.8 L778.3,1159.6 L781.6,1158.4 L785.0,1157.2 L788.3,1155.9 L791.7,1154.6 L795.0,1153.2 L798.4,1151.8 L801.8,1150.3 L805.1,1148.8 L808.5,1147.1 L811.8,1145.5 L813.1,1144.8 L815.2,1143.7 L818.5,1142.0 L821.9,1140.3 L825.3,1138.5 L828.6,1136.8 L832.0,1135.1 L835.3,1133.3 L838.7,1131.6 L842.0,1129.9 L845.4,1128.1 L848.8,1126.4 L852.1,1124.7 L855.5,1122.9 L858.8,1121.1 L862.2,1119.3 L865.5,1117.5 L868.9,1115.7 L872.3,1113.9 L875.6,1112.1 L879.0,1110.2 L882.3,1108.3 L885.7,1106.4 L889.0,1104.5 L892.4,1102.6 L895.7,1100.6 L899.1,1098.6 L902.5,1096.5 L905.8,1094.5 L909.2,1092.4 L912.5,1090.3 L915.9,1088.1 L919.2,1085.9 L922.6,1083.7 L926.0,1081.4 L929.3,1079.1 L932.7,1076.8 L936.0,1074.4 L939.4,1071.9 L942.7,1069.5 L946.1,1066.9 L949.5,1064.4 L952.8,1061.7 L956.2,1059.1 L959.5,1056.3 L962.9,1053.6 L966.2,1050.7 L969.6,1047.8 L973.0,1044.9 L976.3,1041.9 L979.7,1038.8 L983.0,1035.7 L986.4,1032.5 L989.7,1029.2 L993.1,1025.9 L996.4,1022.5 L999.8,1019.1 L1003.2,1015.5 L1006.5,1011.9 L1009.9,1008.2 L1013.2,1004.5 L1016.6,1000.7 L1019.9,996.8 L1022.0,994.3 L1023.3,992.8 L1026.7,988.8 L1030.0,984.7 L1033.4,980.6 L1036.7,976.5 L1040.1,972.3 L1043.4,968.1 L1046.8,963.9 L1050.2,959.6 L1053.5,955.3 L1056.9,951.0 L1060.2,946.7 L1063.6,942.3 L1066.9,937.9 L1070.3,933.4 L1073.7,929.0 L1077.0,924.5 L1080.4,920.0 L1083.7,915.5 L1087.1,910.9 L1090.4,906.3 L1093.8,901.7 L1097.2,897.1 L1100.5,892.5 L1103.9,887.8 L1107.2,883.1 L1110.6,878.5 L1113.9,873.8 L1117.3,869.0 L1120.6,864.3 L1124.0,859.6 L1127.4,854.8 L1130.7,850.0 L1134.1,845.2 L1137.4,840.5 L1140.8,835.7 L1144.1,830.8 L1147.5,826.0 L1150.9,821.2 L1154.2,816.4 L1157.6,811.5 L1160.9,806.7 L1164.3,801.9 L1167.6,797.0 L1171.0,792.2 L1174.4,787.3 L1177.7,782.5 L1181.1,777.6 L1184.4,772.8 L1187.8,768.0 L1191.1,763.1 L1194.5,758.3 L1197.9,753.5 L1201.2,748.7 L1204.6,743.8 L1207.9,739.0 L1211.3,734.2 L1214.6,729.5 L1218.0,724.7 L1221.3,719.9 L1224.7,715.2 L1228.1,710.4 L1231.4,705.7 L1234.8,701.0 L1238.1,696.3 L1241.5,691.6 L1244.8,686.9 L1248.2,682.3 L1251.6,677.7 L1254.9,673.0 L1258.3,668.5 L1261.6,663.9 L1265.0,659.3 L1268.3,654.8 L1271.7,650.3 L1275.1,645.9 L1278.4,641.4 L1281.8,637.0 L1285.1,632.6 L1288.5,628.2 L1291.8,623.9 L1295.2,619.6 L1298.6,615.3 L1299.1,614.6 L1301.9,611.0 L1305.3,606.8 L1308.6,602.6 L1312.0,598.3 L1315.3,594.1 L1318.7,589.9 L1322.0,585.7 L1325.4,581.5 L1328.8,577.4 L1332.1,573.2 L1335.5,569.0 L1338.8,564.9 L1342.2,560.7 L1345.5,556.6 L1348.9,552.4 L1352.3,548.3 L1355.6,544.1 L1359.0,540.0 L1362.3,535.8 L1365.7,531.7 L1369.0,527.6 L1372.4,523.4 L1375.8,519.3 L1379.1,515.1 L1382.5,511.0 L1385.8,506.9 L1389.2,502.7 L1392.5,498.6 L1395.9,494.4 L1399.3,490.2 L1402.6,486.1 L1406.0,481.9 L1409.3,477.7 L1412.7,473.5 L1416.0,469.3 L1419.4,465.1 L1422.8,460.9 L1426.1,456.7 L1429.5,452.5 L1432.8,448.2 L1436.2,444.0 L1439.5,439.7 L1442.9,435.5 L1446.2,431.2 L1449.6,426.9 L1453.0,422.6 L1456.3,418.2 L1459.7,413.9 L1463.0,409.5 L1466.2,405.4 L1466.4,405.1 L1469.7,400.7 L1473.1,396.3 L1476.5,391.9 L1479.8,387.4 L1483.2,382.9 L1486.5,378.5 L1489.9,373.9 L1493.2,369.4 L1496.6,364.9 L1500.0,360.3 L1503.3,355.8 L1506.7,351.2 L1510.0,346.6 L1513.4,342.0 L1516.7,337.4 L1520.1,332.8 L1523.5,328.2 L1526.8,323.6 L1530.2,319.0 L1533.5,314.4 L1536.9,309.8 L1540.2,305.2 L1543.6,300.6 L1546.9,296.0 L1550.3,291.4 L1553.7,286.8 L1557.0,282.2 L1560.4,277.6 L1563.7,273.0 L1567.1,268.5 L1570.4,263.9 L1573.8,259.4 L1576.6,255.6 L1577.2,254.9 L1580.5,250.4 L1583.9,245.8 L1587.2,241.3 L1590.6,236.8 L1593.9,232.2 L1597.3,227.7 L1600.7,223.2 L1604.0,218.7 L1607.4,214.2 L1610.7,209.7 L1614.1,205.3 L1617.4,200.9 L1620.8,196.5 L1624.2,192.1 L1627.5,187.7 L1630.9,183.4 L1634.2,179.2 L1637.6,174.9 L1640.9,170.7 L1644.3,166.6 L1647.7,162.5 L1651.0,158.4 L1654.4,154.4 L1657.7,150.5 L1661.1,146.6 L1664.4,142.8 L1667.8,139.1 L1671.1,135.4 L1674.5,131.8 L1677.9,128.2 L1681.2,124.8 L1682.9,123.1 L1684.6,121.4 L1687.9,118.1 L1691.3,115.0 L1694.6,111.9 L1698.0,109.0 L1701.4,106.1 L1704.7,103.4 L1708.1,100.7 L1711.4,98.2 L1714.8,95.7 L1718.1,93.4 L1721.5,91.1 L1724.9,88.9 L1728.2,86.8 L1731.6,84.8 L1734.9,82.9 L1738.3,81.1 L1741.6,79.3 L1745.0,77.6 L1748.4,76.0 L1751.7,74.5 L1755.1,73.0 L1758.4,71.6 L1761.8,70.3 L1765.1,69.0 L1768.5,67.9 L1771.8,66.7 L1775.2,65.7 L1778.6,64.6 L1781.9,63.7 L1785.3,62.8 L1788.6,61.9 L1792.0,61.1 L1795.3,60.4 L1798.7,59.7 L1802.1,59.0 L1805.4,58.4 L1808.8,57.9 L1812.1,57.3 L1815.5,56.8 L1818.8,56.4 L1822.2,55.9 L1825.6,55.6 L1828.9,55.2 L1832.3,54.9 L1835.6,54.5 L1839.0,54.3 L1842.3,54.0 L1845.7,53.8 L1849.1,53.5 L1852.4,53.3 L1855.8,53.1 L1859.1,52.9 L1862.5,52.8 L1865.8,52.6 L1869.2,52.5 L1872.6,52.3 L1875.9,52.2 L1879.3,52.0 L1882.6,51.9 L1886.0,51.7 L1889.3,51.6 L1892.7,51.4 L1896.0,51.2 L1899.4,51.0 L1902.8,50.9 L1906.1,50.6 L1909.5,50.4 L1912.8,50.2 L1915.1,50.0 L1916.2,49.9 L1919.5,49.6 L1922.9,49.4 L1926.3,49.1 L1929.6,48.9 L1933.0,48.6 L1936.3,48.4 L1939.7,48.1 L1943.0,47.9 L1946.4,47.7 L1949.8,47.4 L1953.1,47.2 L1956.5,47.0 L1959.8,46.9 L1963.2,46.7 L1966.5,46.6 L1969.9,46.4 L1973.3,46.3 L1976.6,46.2 L1980.0,46.1 L1983.3,46.1 L1986.7,46.0 L1990.0,46.0 L1993.4,46.0 L1996.7,46.0 L2000.1,46.1 L2003.5,46.2 L2006.8,46.3 L2010.2,46.4 L2013.5,46.6 L2016.9,46.7 L2020.2,47.0 L2023.6,47.2 L2027.0,47.5 L2030.3,47.8 L2033.7,48.2 L2037.0,48.6 L2040.4,49.0 L2043.7,49.5 L2047.1,50.0" fill="none" stroke="#ff0000" stroke-width="6.6" stroke-linejoin="round"/>
<polygon points="356.6,1389.6 387.6,1389.6 372.1,1416.2" fill="#ff0000"/>
<polygon points="402.6,1366.7 433.6,1366.7 418.1,1393.3" fill="#ff0000"/>
<polygon points="459.5,1336.6 490.5,1336.6 475.0,1363.2" fill="#ff0000"/>
<polygon points="539.2,1280.7 570.2,1280.7 554.7,1307.3" fill="#ff0000"/>
<polygon points="649.5,1197.6 680.5,1197.6 665.0,1224.2" fill="#ff0000"/>
<polygon points="797.6,1135.9 828.6,1135.9 813.1,1162.5" fill="#ff0000"/>
<polygon points="1006.5,985.5 1037.5,985.5 1022.0,1012.1" fill="#ff0000"/>
<polygon points="1283.6,605.7 1314.6,605.7 1299.1,632.3" fill="#ff0000"/>
<polygon points="1450.7,396.5 1481.7,396.5 1466.2,423.1" fill="#ff0000"/>
<polygon points="1561.1,246.8 1592.1,246.8 1576.6,273.4" fill="#ff0000"/>
<polygon points="1667.4,114.2 1698.4,114.2 1682.9,140.8" fill="#ff0000"/>
<polygon points="1899.6,41.1 1930.6,41.1 1915.1,67.7" fill="#ff0000"/>
<polygon points="2031.6,41.1 2062.6,41.1 2047.1,67.7" fill="#ff0000"/>
</g>
<rect x="368.15" y="1455.0" width="7.9" height="28" fill="#000"/>
<rect x="414.15" y="1455.0" width="7.9" height="28" fill="#000"/>
<rect x="471.05" y="1455.0" width="7.9" height="28" fill="#000"/>
<rect x="550.75" y="1455.0" width="7.9" height="28" fill="#000"/>
<rect x="661.05" y="1455.0" width="7.9" height="28" fill="#000"/>
<rect x="809.15" y="1455.0" width="7.9" height="28" fill="#000"/>
<rect x="1018.05" y="1455.0" width="7.9" height="28" fill="#000"/>
<rect x="1295.15" y="1455.0" width="7.9" height="28" fill="#000"/>
<rect x="1462.25" y="1455.0" width="7.9" height="28" fill="#000"/>
<rect x="1572.65" y="1455.0" width="7.9" height="28" fill="#000"/>
<rect x="1678.95" y="1455.0" width="7.9" height="28" fill="#000"/>
<rect x="1911.15" y="1455.0" width="7.9" height="28" fill="#000"/>
<rect x="254.0" y="1192.45" width="29" height="7.9" fill="#000"/>
<rect x="254.0" y="905.85" width="29" height="7.9" fill="#000"/>
<rect x="254.0" y="619.25" width="29" height="7.9" fill="#000"/>
<rect x="254.0" y="332.65" width="29" height="7.9" fill="#000"/>
<rect x="254.0" y="50.0" width="1793.1" height="1433.0" fill="none" stroke="#000" stroke-width="7.9"/>
<text transform="translate(185.92,1505.50) scale(0.9988,1)" font-size="77" font-weight="normal">0</text>
<text transform="translate(147.84,1218.90) scale(0.9938,1)" font-size="77" font-weight="normal">20</text>
<text transform="translate(148.48,932.30) scale(0.9851,1)" font-size="77" font-weight="normal">40</text>
<text transform="translate(148.88,645.70) scale(0.9797,1)" font-size="77" font-weight="normal">60</text>
<text transform="translate(150.55,359.10) scale(0.9571,1)" font-size="77" font-weight="normal">80</text>
<text transform="translate(113.13,71.60) scale(0.9622,1)" font-size="77" font-weight="normal">100</text>
<text transform="translate(315.55,1528.00) scale(1.0388,1)" font-size="35" font-weight="bold">0.075</text>
<text transform="translate(395.54,1528.00) scale(0.9735,1)" font-size="35" font-weight="bold">0.15</text>
<text transform="translate(453.29,1528.00) scale(1.0751,1)" font-size="35" font-weight="bold">0.3</text>
<text transform="translate(533.38,1528.00) scale(1.0145,1)" font-size="35" font-weight="bold">0.6</text>
<text transform="translate(638.92,1528.00) scale(0.9913,1)" font-size="35" font-weight="bold">1.18</text>
<text transform="translate(798.47,1526.00) scale(1.0187,1)" font-size="35" font-weight="bold">2.36</text>
<text transform="translate(1007.35,1525.00) scale(0.9899,1)" font-size="35" font-weight="bold">4.75</text>
<text transform="translate(1276.53,1524.00) scale(1.0194,1)" font-size="35" font-weight="bold">9.5</text>
<text transform="translate(1441.82,1525.00) scale(0.9921,1)" font-size="35" font-weight="bold">13.2</text>
<text transform="translate(1555.88,1524.00) scale(1.0080,1)" font-size="35" font-weight="bold">16</text>
<text transform="translate(1664.67,1524.00) scale(1.0097,1)" font-size="35" font-weight="bold">19</text>
<text transform="translate(1894.68,1523.00) scale(1.0163,1)" font-size="35" font-weight="bold">26.5</text>
<text transform="translate(2016.48,1522.00) scale(1.0163,1)" font-size="35" font-weight="bold">31.5</text>
<rect x="314.1" y="139.95" width="143.9" height="5.9" fill="#000000"/>
<rect x="373.9" y="130.9" width="24.2" height="24.8" fill="#000000"/>
<text transform="translate(494.13,169.00) scale(1.0316,1)" font-size="69.3" font-weight="bold">Specification upper limit</text>
<rect x="314.1" y="228.25" width="143.9" height="5.9" fill="#000000"/>
<circle cx="386.0" cy="231.6" r="12.6" fill="#000000"/>
<text transform="translate(494.12,257.00) scale(1.0326,1)" font-size="69.3" font-weight="bold">Specification lower limit</text>
<rect x="314.1" y="316.95" width="143.9" height="5.9" fill="#00ff00"/>
<polygon points="370.5,329.2 401.5,329.2 386.0,302.6" fill="#00ff00"/>
<text transform="translate(494.12,344.90) scale(1.0330,1)" font-size="69.3" font-weight="bold">Specification mid-value</text>
<rect x="314.1" y="405.35" width="143.9" height="5.9" fill="#ff0000"/>
<polygon points="370.5,399.8 401.5,399.8 386.0,426.4" fill="#ff0000"/>
<text transform="translate(496.29,433.20) scale(1.0182,1)" font-size="69.3" font-weight="bold">Design</text>
<text transform="translate(990.92,1658.30) scale(1.0227,1)" font-size="79.7" font-weight="bold">Size /mm</text>
<text transform="translate(92.0,1159.33) rotate(-90)" font-size="81.4" font-weight="bold"><tspan x="0" y="0">Percent passing</tspan><tspan x="532.88" y="-3.70" font-size="70.00" font-weight="normal" textLength="86.07" lengthAdjust="spacingAndGlyphs">（</tspan><tspan x="621.37" y="0.02" font-size="86.64" font-weight="bold">%</tspan><tspan x="710.18" y="-3.74" font-size="70.43" font-weight="normal" textLength="89.29" lengthAdjust="spacingAndGlyphs">）</tspan></text>
</svg>
</body></html>
